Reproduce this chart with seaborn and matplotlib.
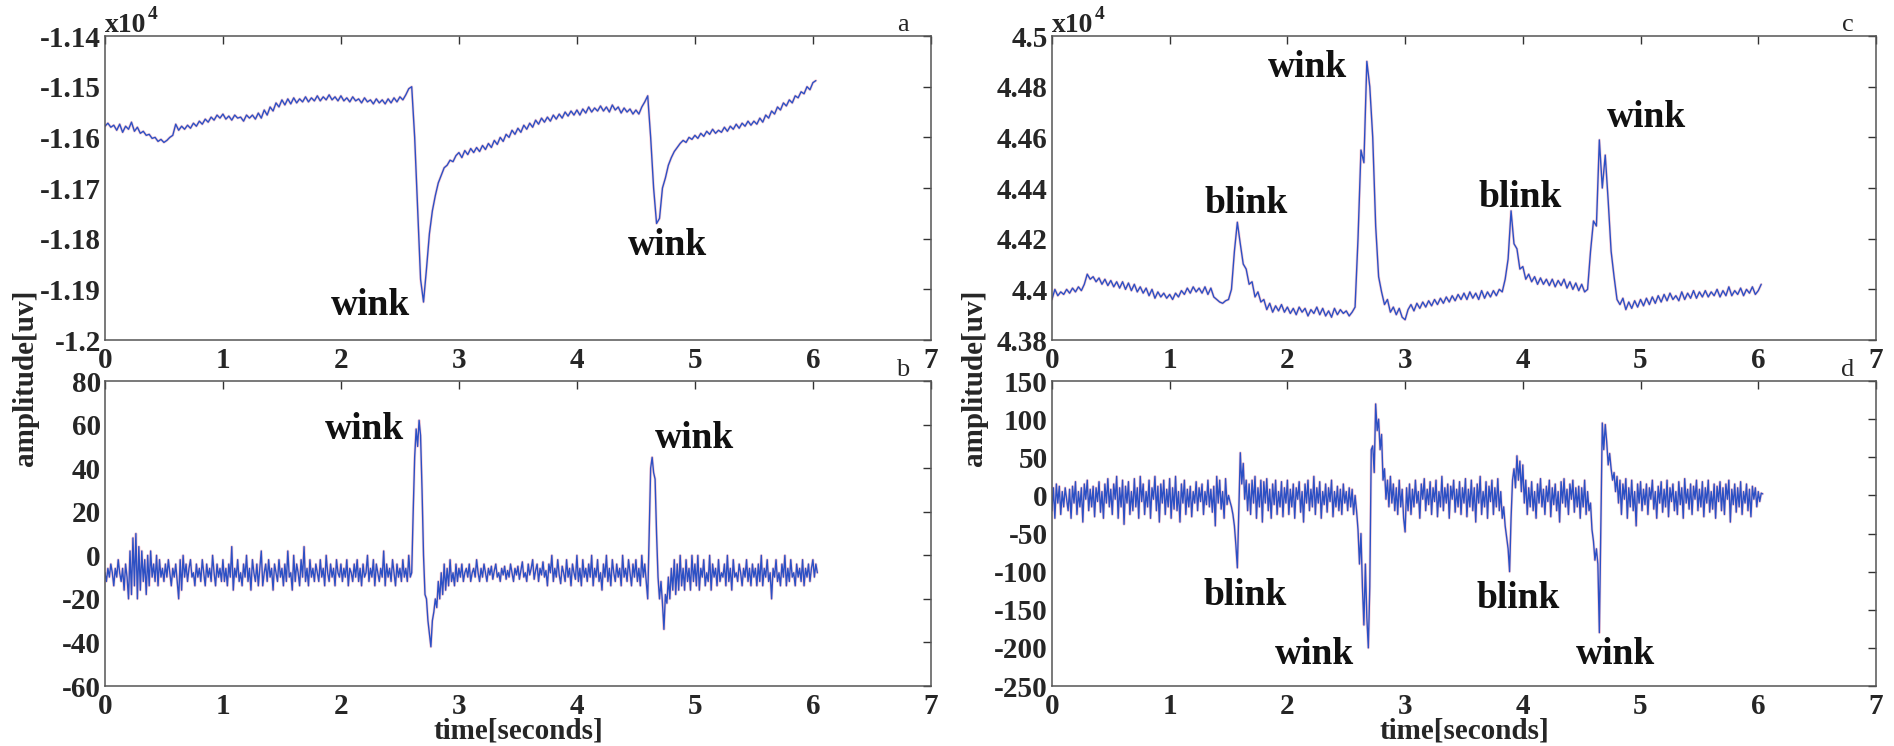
import numpy as np
import matplotlib
matplotlib.use("Agg")
import matplotlib.pyplot as plt
import seaborn as sns
from matplotlib.ticker import FuncFormatter

# ---------------- data ----------------
# panels a and c sampled at 40 Hz, panels b and d at 80 Hz
fs_a = 40
fs_b = 80
fs_c = 40
fs_d = 80

a_vals = [
    -11578, -11572, -11580, -11576, -11586, -11574, -11590, -11578, -11584, -11570,
    -11588, -11580, -11592, -11588, -11596, -11594, -11602, -11600, -11608, -11604,
    -11610, -11606, -11600, -11596, -11574, -11586, -11578, -11584, -11576, -11582,
    -11572, -11578, -11568, -11574, -11564, -11570, -11560, -11566, -11556, -11562,
    -11554, -11564, -11558, -11566, -11556, -11562, -11560, -11568, -11556, -11562,
    -11556, -11564, -11552, -11562, -11546, -11556, -11540, -11548, -11532, -11540,
    -11526, -11536, -11524, -11534, -11522, -11532, -11524, -11530, -11520, -11530,
    -11522, -11528, -11518, -11528, -11520, -11526, -11516, -11526, -11520, -11528,
    -11518, -11528, -11522, -11530, -11520, -11528, -11524, -11532, -11522, -11530,
    -11526, -11534, -11524, -11532, -11526, -11534, -11524, -11532, -11522, -11530,
    -11520, -11526, -11516, -11504, -11500, -11600, -11740, -11880, -11925, -11860,
    -11790, -11745, -11715, -11690, -11675, -11660, -11655, -11645, -11648, -11636,
    -11630, -11640, -11626, -11634, -11622, -11630, -11620, -11628, -11616, -11624,
    -11612, -11620, -11606, -11614, -11600, -11608, -11594, -11600, -11586, -11594,
    -11582, -11590, -11576, -11584, -11572, -11580, -11566, -11574, -11562, -11570,
    -11560, -11568, -11556, -11564, -11554, -11562, -11550, -11558, -11548, -11556,
    -11546, -11556, -11544, -11552, -11540, -11550, -11542, -11548, -11538, -11548,
    -11540, -11550, -11536, -11546, -11540, -11552, -11542, -11550, -11544, -11554,
    -11546, -11554, -11540, -11530, -11518, -11600, -11700, -11770, -11760, -11700,
    -11680, -11655, -11640, -11628, -11620, -11612, -11606, -11610, -11600, -11604,
    -11596, -11602, -11592, -11598, -11588, -11594, -11584, -11592, -11586, -11590,
    -11580, -11588, -11578, -11584, -11574, -11582, -11572, -11578, -11568, -11576,
    -11568, -11574, -11562, -11570, -11556, -11562, -11548, -11554, -11540, -11546,
    -11532, -11538, -11526, -11532, -11518, -11522, -11510, -11514, -11500, -11506,
    -11492, -11488,
]

b_vals = [
    # 0.0 - 0.5 s
    -8, -12, -6, -10, -4, -8, -14, -6, -10, -2, -8, -12, -6, -16, -4, -10, -20, 2, -18, 8,
    -14, 10, -20, 4, -16, 2, -12, -2, -18, 0, -14, 2, -10, -4, -12, 0, -14, -2, -10, -6,
    # 0.5 - 1.0 s
    -12, -4, -10, -2, -8, -14, -6, -10, -4, -12, -20, -2, -16, 0, -10, -4, -12, -6, -2, -10,
    -8, -14, -4, -10, -6, -12, -2, -8, -14, -4, -10, -6, -12, 0, -8, -14, -4, -10, -6, -12,
    # 1.0 - 1.5 s
    -2, -12, -6, -14, -4, -10, 4, -16, -6, -10, -2, -12, -8, -14, -4, -10, 0, -12, -6, -16,
    -2, -8, -12, -4, -14, -6, 2, -14, -8, -4, -12, -2, -10, -6, -16, -4, -8, -12, -2, -10,
    # 1.5 - 2.0 s
    -6, -14, -4, -12, 2, -10, -8, -16, 0, -12, -4, -8, -14, -2, -10, 4, -12, -6, -14, -2,
    -10, -6, -12, -4, -8, -12, -2, -10, -6, -14, 0, -8, -12, -4, -10, -6, -14, -2, -8, -10,
    # 2.0 - 2.5 s
    -4, -12, -6, -10, -2, -14, -6, -8, -12, -4, -10, -2, -12, -6, -14, -4, -10, -8, 0, -12,
    -6, -10, -2, -14, -4, -8, -12, -6, -10, 2, -14, -4, -10, -6, -12, -2, -8, -14, -4, -10,
    # 2.5 - 3.0 s (wink)
    -6, -12, -2, -10, -6, -12, 0, -10, -8, 20, 45, 58, 50, 62, 55, 30, 0, -18, -20, -30,
    -36, -42, -30, -26, -20, -24, -12, -20, -8, -18, -4, -16, -6, -14, -2, -12, -8, -14, -4, -12,
    # 3.0 - 3.5 s
    -6, -10, -4, -12, -8, -6, -10, -4, -12, -8, -6, -10, -2, -8, -12, -6, -10, -4, -8, -12,
    -6, -9, -5, -11, -7, -4, -10, -8, -12, -6, -9, -5, -11, -7, -10, -4, -8, -12, -6, -9,
    # 3.5 - 4.0 s
    -5, -11, -7, -3, -10, -8, -12, -4, -9, -6, -2, -11, -7, -4, -12, -6, -9, -3, -10, -7,
    -14, -4, -8, 0, -12, -6, -10, -2, -9, -13, -5, -8, -12, -2, -10, -6, -14, -4, -8, -11,
    # 4.0 - 4.5 s
    0, -12, -6, -14, -2, -10, -6, -12, -4, -10, 0, -14, -6, -10, -2, -12, -8, -16, -4, -10,
    0, -12, -6, -14, -2, -8, -12, -4, -10, -6, -14, 0, -10, -6, -12, -2, -8, -14, -4, -10,
    # 4.5 - 5.0 s (wink)
    -2, -12, -6, -14, 0, -10, -4, -12, -20, 10, 40, 45, 38, 35, 10, -10, -20, -12, -22, -34,
    -18, -22, -10, -20, -6, -16, -2, -18, -4, -16, 0, -14, -6, -16, -2, -12, -6, -16, 0, -12,
    # 5.0 - 5.5 s
    -4, -14, 0, -16, -6, -10, -2, -14, -8, -12, 0, -16, -4, -10, -6, -14, -2, -12, -8, -10,
    -4, -14, 0, -12, -6, -16, -2, -10, -8, -12, -4, -8, -14, -6, -10, -2, -12, -6, -14, -4,
    # 5.5 - 6.0 s
    -10, -6, -14, -4, -12, 0, -14, -6, -10, -2, -12, -8, -20, -6, -10, -2, -12, -8, -14, -4,
    -10, 0, -14, -6, -12, -2, -10, -8, -14, -4, -10, -6, -12, -2, -14, -6, -10, -4, -12, -6,
    -2, -10, -4, -8,
]

c_vals = [
    43960, 44000, 43975, 43990, 43980, 44000, 43985, 44005, 43990, 44010,
    43995, 44020, 44060, 44040, 44050, 44030, 44045, 44020, 44040, 44015,
    44035, 44010, 44030, 44005, 44030, 44000, 44025, 43995, 44020, 43990,
    44010, 43985, 44005, 43975, 44000, 43965, 43990, 43970, 43985, 43965,
    43980, 43960, 43985, 43970, 43995, 43980, 44005, 43985, 44010, 43990,
    44005, 43985, 44010, 43980, 44005, 43970, 43960, 43950, 43945, 43955,
    43960, 44000, 44150, 44265, 44180, 44100, 44080, 44020, 44030, 43970,
    43990, 43950, 43960, 43920, 43945, 43910, 43935, 43915, 43940, 43910,
    43930, 43905, 43925, 43900, 43930, 43910, 43925, 43895, 43920, 43905,
    43930, 43900, 43925, 43895, 43915, 43890, 43925, 43900, 43920, 43905,
    43915, 43895, 43910, 43930, 44200, 44550, 44500, 44900, 44800, 44600,
    44250, 44050, 43990, 43940, 43960, 43910, 43930, 43900, 43925, 43890,
    43880, 43920, 43940, 43915, 43945, 43925, 43950, 43930, 43955, 43935,
    43960, 43940, 43965, 43945, 43970, 43950, 43975, 43955, 43980, 43960,
    43985, 43960, 43990, 43965, 43985, 43960, 43995, 43965, 43990, 43970,
    43995, 43975, 44000, 43990, 44040, 44120, 44310, 44180, 44160, 44080,
    44090, 44040, 44060, 44030, 44050, 44020, 44045, 44020, 44040, 44015,
    44040, 44010, 44035, 44015, 44040, 44005, 44030, 44000, 44025, 43995,
    44020, 43990, 44000, 44150, 44270, 44250, 44590, 44400, 44530, 44350,
    44150, 44050, 43960, 43940, 43965, 43920, 43950, 43925, 43955, 43930,
    43960, 43935, 43965, 43940, 43970, 43945, 43975, 43950, 43980, 43955,
    43985, 43960, 43975, 43955, 43990, 43960, 43985, 43965, 43995, 43965,
    43990, 43970, 43995, 43970, 43990, 43975, 44000, 43970, 43995, 43975,
    44010, 43975, 43995, 43980, 44005, 43975, 44000, 43985, 44010, 43980,
    43995, 44020,
]

d_vals = [
    # 0.0 - 0.5 s
    -20, 10, -30, 15, -10, 12, -25, 5, -15, 10, -5, -20, 8, -30, 12, -10, 18, -25, 5, -15,
    10, -35, 15, -5, 20, -20, 8, -15, 12, -28, 10, -8, 18, -22, 5, -30, 15, -10, 22, -15,
    # 0.5 - 1.0 s
    8, -25, 15, -5, 25, -30, 10, -15, 20, -38, 12, -10, 18, -25, 5, -20, 22, -15, 10, -30,
    25, -8, 15, -25, 5, -15, 20, -30, 10, -5, 25, -20, 12, -35, 15, -10, 20, -25, 8, -15,
    # 1.0 - 1.5 s
    22, -30, 10, -18, 25, -20, 5, -35, 15, -10, 20, -25, 8, -15, 12, -28, 5, -10, 18, -20,
    10, -8, 15, -25, 5, -12, 20, -15, 8, -22, 12, -40, 25, -10, 20, -18, 5, -30, 22, -12,
    # 1.5 - 2.0 s (blink)
    0, -8, -15, -25, -40, -65, -95, -20, 56, 15, 42, -5, 20, -20, 15, -25, 20, -10, 25, -30,
    10, -15, 20, -35, 18, -10, 22, -20, 8, -30, 15, -12, 20, -25, 5, -15, 18, -28, 10, -10,
    # 2.0 - 2.5 s
    20, -25, 8, -15, 15, -30, 10, -5, 18, -22, 5, -35, 15, -10, 20, -20, 8, -15, 25, -25,
    10, -10, 18, -30, 5, -12, 15, -22, 10, -8, 20, -28, 5, -15, 12, -20, 8, -25, 15, -10,
    # 2.5 - 3.0 s (wink)
    5, -20, 10, -15, 8, -25, 0, -20, -45, -90, -50, -120, -170, -90, -160, -200, -120, 60, 65, 30,
    120, 85, 100, 60, 80, 20, 35, -5, 20, -15, 25, -10, 15, -20, 10, -25, 20, -15, 8, -30,
    # 3.0 - 3.5 s
    -48, 10, -20, 15, -25, 8, -15, 20, -10, 5, -30, 15, -5, 22, -20, 8, -12, 18, -25, 10,
    -8, 20, -28, 5, -15, 25, -20, 10, -10, 15, -30, 12, -5, 20, -22, 8, -15, 18, -25, 10,
    # 3.5 - 4.0 s (blink)
    -10, 22, -28, 8, -15, 20, -20, 10, -35, 15, -10, 25, -25, 5, -15, 18, -30, 12, -8, 20,
    -25, 10, -15, 22, -20, 5, -30, -15, -40, -55, -70, -100, -30, 20, 35, 10, 52, 20, 45, 5,
    # 4.0 - 4.5 s
    40, -10, 20, -25, 10, -15, 18, -20, 5, -30, 15, -10, 22, -15, 8, -25, 12, -8, 20, -28,
    10, -12, 15, -20, 5, -35, 18, -10, 22, -15, 8, -25, 15, -5, 20, -22, 10, -15, 12, -30,
    # 4.5 - 5.0 s (wink)
    10, -15, 20, -25, 5, -20, -10, -45, -60, -85, -70, -90, -180, -40, 95, 60, 93, 70, 40, 55,
    35, 20, 30, 5, 25, -10, 20, -25, 15, -5, 22, -30, 10, -15, 20, -20, 5, -40, 15, -10,
    # 5.0 - 5.5 s
    18, -20, 8, -12, 15, -25, 10, -5, 20, -18, 5, -30, 12, -10, 18, -22, 8, -15, 20, -28,
    10, -8, 15, -20, 5, -25, 18, -12, 10, -30, 22, -10, 8, -18, 15, -25, 12, -5, 20, -20,
    # 5.5 - 6.0 s
    8, -15, 18, -28, 10, -10, 20, -22, 5, -18, 15, -30, 12, -8, 18, -20, 10, -25, 15, -5,
    20, -35, 8, -12, 15, -22, 10, -15, 18, -25, 5, -10, 15, -20, 8, -28, 12, -5, 10, -15,
    5, -8, 3, 2,
]

panel_letters = ["a", "b", "c", "d"]
y_ticks = {
    "a": [-12000, -11900, -11800, -11700, -11600, -11500, -11400],
    "b": [-60, -40, -20, 0, 20, 40, 60, 80],
    "c": [43800, 44000, 44200, 44400, 44600, 44800, 45000],
    "d": [-250, -200, -150, -100, -50, 0, 50, 100, 150],
}
x_ticks = [0, 1, 2, 3, 4, 5, 6, 7]

# annotations: (label, x, baseline y)
notes = {
    "a": [("wink", 2.25, -11951), ("wink", 4.77, -11832)],
    "b": [("wink", 2.20, 53.4), ("wink", 5.00, 49.3)],
    "c": [("blink", 1.65, 44301), ("wink", 2.17, 44838),
          ("blink", 3.98, 44325), ("wink", 5.05, 44641)],
    "d": [("blink", 1.64, -144), ("wink", 2.23, -221),
          ("blink", 3.96, -148), ("wink", 4.79, -221)],
}

# ---------------- styling ----------------
sns.set_style("white")
plt.rcParams["font.family"] = ["Liberation Serif", "DejaVu Serif"]
plt.rcParams["font.weight"] = "bold"
plt.rcParams["axes.labelweight"] = "bold"

fig = plt.figure(figsize=(18.94, 7.46), dpi=100)
positions = {
    "a": [0.0554, 0.5442, 0.4361, 0.4075],
    "b": [0.0554, 0.0804, 0.4361, 0.4088],
    "c": [0.5554, 0.5442, 0.4351, 0.4075],
    "d": [0.5554, 0.0804, 0.4351, 0.4088],
}
series = {"a": (a_vals, fs_a), "b": (b_vals, fs_b), "c": (c_vals, fs_c), "d": (d_vals, fs_d)}

blue = "#2c50c4"
pink = "#e87a92"

for key in panel_letters:
    ax = fig.add_axes(positions[key])
    vals_list, fs = series[key]
    vals = np.array(vals_list, dtype=float)
    t = np.arange(len(vals)) / fs
    sns.lineplot(x=t, y=vals, ax=ax, color=pink, linewidth=2.0, alpha=0.35,
                 estimator=None, sort=False, legend=False)
    sns.lineplot(x=t, y=vals, ax=ax, color=blue, linewidth=1.0,
                 estimator=None, sort=False, legend=False)
    yt = y_ticks[key]
    ax.set_xlim(0, 7)
    ax.set_ylim(yt[0], yt[-1])
    ax.set_xticks(x_ticks)
    ax.set_yticks(yt)
    if key in ("a", "c"):
        ax.yaxis.set_major_formatter(FuncFormatter(lambda v, p: "%g" % (v / 1e4)))
        ax.annotate("x10", xy=(0, 1), xycoords="axes fraction", xytext=(0, 3),
                    textcoords="offset points", ha="left", va="baseline",
                    fontsize=20, fontweight="bold")
        ax.annotate("4", xy=(0, 1), xycoords="axes fraction", xytext=(31, 12),
                    textcoords="offset points", ha="left", va="baseline",
                    fontsize=14, fontweight="bold")
    else:
        ax.yaxis.set_major_formatter(FuncFormatter(lambda v, p: "%g" % v))
    ax.tick_params(axis="both", which="both", direction="in", length=6, width=1,
                   top=True, right=True, labelsize=21, color="#333333")
    ax.tick_params(axis="y", pad=3)
    ax.tick_params(axis="x", pad=5)
    for lab in ax.get_xticklabels() + ax.get_yticklabels():
        lab.set_fontweight("bold")
    for sp in ax.spines.values():
        sp.set_visible(True)
        sp.set_color("#555555")
        sp.set_linewidth(1.1)
    ax.set_ylabel("")
    if key in ("b", "d"):
        ax.set_xlabel("time[seconds]", fontsize=21, fontweight="bold", labelpad=-2)
    else:
        ax.set_xlabel("")
    ax.text(0.966, 1.018, key, transform=ax.transAxes, ha="center", va="baseline",
            fontsize=19, fontweight="normal")
    for txt, xx, yy in notes[key]:
        ax.text(xx, yy, txt, ha="center", va="baseline", fontsize=27,
                fontweight="bold", color="#111111")

fig.text(0.0135, 0.493, "amplitude[uv]", rotation=90, ha="center", va="center",
         fontsize=21, fontweight="bold")
fig.text(0.5145, 0.493, "amplitude[uv]", rotation=90, ha="center", va="center",
         fontsize=21, fontweight="bold")

fig.savefig("out.png", dpi=100, facecolor="white")
